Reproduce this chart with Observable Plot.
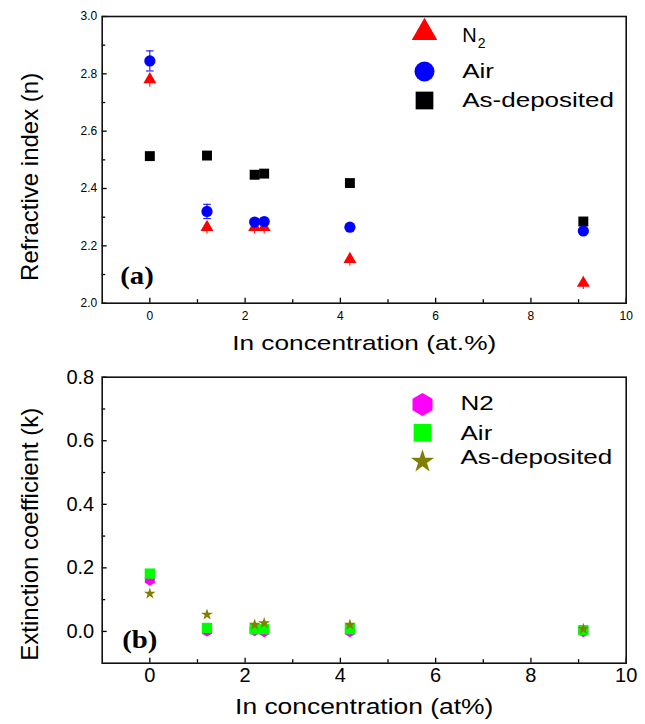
<!DOCTYPE html>
<html><head><meta charset="utf-8">
<script src="https://cdn.jsdelivr.net/npm/d3@7"></script>
<script src="https://cdn.jsdelivr.net/npm/@observablehq/plot@0.6"></script>
<style>
body{margin:0;background:#fff;}
#chart svg{display:block;}
</style></head><body><div id="chart"></div>
<script>
// ---------- data ----------
const concentration = [0, 1.2, 2.2, 2.4, 4.2, 9.1];
// (a) refractive index n
const nN2 = [2.78, 2.265, 2.265, 2.265, 2.153, 2.07];
const nN2Err = [0.015, 0.012, 0.012, 0.012, 0.012, 0.01];
const nAir = [2.845, 2.32, 2.283, 2.285, 2.265, 2.252];
const nAirErr = [0.035, 0.025, 0.005, 0.005, 0.005, 0.005];
const nAsDeposited = [2.513, 2.515, 2.448, 2.452, 2.419, 2.285];
// (b) extinction coefficient k
const kN2 = [0.162, 0.002, 0.003, 0.0, 0.0, 0.0];
const kAir = [0.182, 0.011, 0.007, 0.007, 0.007, 0.004];
const kAsDeposited = [0.119, 0.053, 0.021, 0.026, 0.021, 0.008];

// ticks
const xTicks = [0, 2, 4, 6, 8, 10];
const xMinorTicks = [1, 3, 5, 7, 9];
const nTicks = [2.0, 2.2, 2.4, 2.6, 2.8, 3.0];
const nMinorTicks = [2.1, 2.3, 2.5, 2.7, 2.9];
const kTicks = [0.0, 0.2, 0.4, 0.6, 0.8];
const kMinorTicks = [0.1, 0.3, 0.5, 0.7];

// labels
const xTitleA = "In concentration (at.%)";
const xTitleB = "In concentration (at%)";
const yTitleA = "Refractive index (n)";
const yTitleB = "Extinction coefficient (k)";
const panelA = "(a)";
const panelB = "(b)";
const legendA = ["N₂", "Air", "As-deposited"];
const legendB = ["N2", "Air", "As-deposited"];

// ---------- build ----------
const font = "'Liberation Sans', Arial, sans-serif";
const serif = "'Liberation Serif', 'Times New Roman', serif";
const rows = (ys, errs) => concentration.map((x, i) => ({x, y: ys[i], e: errs ? errs[i] : 0}));
const capSymbol = {draw(ctx) { ctx.moveTo(-3.8, 0); ctx.lineTo(3.8, 0); }};

function axisMarks(yTicks, yMinor, fs, padX, padY) {
  return [
    Plot.axisX(xTicks, {anchor: "bottom", tickSize: -5, tickFormat: () => "", label: null, strokeWidth: 1.3}),
    Plot.axisX(xMinorTicks, {anchor: "bottom", tickSize: -3.5, tickFormat: () => "", label: null, strokeWidth: 1.3}),
    Plot.axisX(xTicks, {anchor: "bottom", tickSize: 0, tickPadding: padX, fontSize: fs, label: null}),
    Plot.axisY(yTicks, {anchor: "left", tickSize: -5, tickFormat: () => "", label: null, strokeWidth: 1.3}),
    Plot.axisY(yMinor, {anchor: "left", tickSize: -3.5, tickFormat: () => "", label: null, strokeWidth: 1.3}),
    Plot.axisY(yTicks, {anchor: "left", tickSize: 0, tickPadding: padY, fontSize: fs, tickFormat: d3.format(".1f"), label: null}),
    Plot.frame({stroke: "#111", strokeWidth: 1.6})
  ];
}

function legendMarks(labels, symbols, fills, radii, rowDy, symDx, textDx, textDy) {
  const m = [];
  labels.forEach((lab, i) => {
    m.push(Plot.dot([lab], {frameAnchor: "top-left", dx: symDx, dy: rowDy[i], symbol: symbols[i], r: radii[i], fill: fills[i], stroke: "none"}));
    m.push(Plot.text([lab], {frameAnchor: "top-left", dx: textDx, dy: textDy[i], text: d => d, textAnchor: "start", lineAnchor: "middle", fontSize: 20, fontFamily: font, fill: "#000"}));
  });
  return m;
}

const W = 645, H = 362;

const plotA = Plot.plot({
  width: W, height: H,
  marginTop: 16, marginBottom: 59.3, marginLeft: 101.7, marginRight: 19.3,
  x: {domain: [-1, 10]},
  y: {domain: [2.0, 3.0]},
  style: {fontFamily: font, color: "#000", background: "#fff", overflow: "visible"},
  marks: [
    ...axisMarks(nTicks, nMinorTicks, 12, 8, 5),
    Plot.ruleX(rows(nN2, nN2Err), {x: "x", y1: d => d.y - d.e - 0.012, y2: d => d.y, stroke: "red", strokeWidth: 1}),
    Plot.ruleX(rows(nAir, nAirErr), {x: "x", y1: d => d.y - d.e, y2: d => d.y + d.e, stroke: "blue", strokeWidth: 1}),
    Plot.dot(rows(nAir, nAirErr).filter(d => d.e > 0.01), {x: "x", y: d => d.y + d.e, symbol: capSymbol, stroke: "blue", strokeWidth: 1, fill: "none"}),
    Plot.dot(rows(nAir, nAirErr).filter(d => d.e > 0.01), {x: "x", y: d => d.y - d.e, symbol: capSymbol, stroke: "blue", strokeWidth: 1, fill: "none"}),
    Plot.dot(rows(nAsDeposited), {x: "x", y: "y", symbol: "square", r: 5.6, fill: "#000", stroke: "none"}),
    Plot.dot(rows(nN2), {x: "x", y: "y", symbol: "triangle", r: 4.8, fill: "red", stroke: "none"}),
    Plot.dot(rows(nAir), {x: "x", y: "y", symbol: "circle", r: 5.6, fill: "blue", stroke: "none"}),
    ...legendMarks(legendA, ["triangle", "circle", "square"], ["red", "blue", "#000"], [9.5, 10, 10], [16, 55, 84], 322.3, 360, [19, 55, 84]),
    Plot.text([xTitleA], {frameAnchor: "bottom", dy: 40, text: d => d, textAnchor: "middle", lineAnchor: "middle", fontSize: 21, fontFamily: font, fill: "#000"}),
    Plot.text([yTitleA], {frameAnchor: "left", dx: -72, dy: 17, rotate: -90, text: d => d, textAnchor: "middle", lineAnchor: "middle", fontSize: 24, fontFamily: font, fill: "#000"}),
    Plot.text([panelA], {frameAnchor: "bottom-left", dx: 18, dy: -27.5, text: d => d, textAnchor: "start", lineAnchor: "middle", fontSize: 25, fontWeight: "bold", fontFamily: serif, fill: "#000"})
  ]
});

const plotB = Plot.plot({
  width: W, height: H,
  marginTop: 14.7, marginBottom: 61.3, marginLeft: 101.7, marginRight: 19.3,
  x: {domain: [-1, 10]},
  y: {domain: [-0.1, 0.8]},
  style: {fontFamily: font, color: "#000", background: "#fff", overflow: "visible"},
  marks: [
    ...axisMarks(kTicks, kMinorTicks, 20, 5, 8),
    Plot.dot(rows(kN2), {x: "x", y: "y", symbol: "hexagon", r: 5, fill: "#ff00ff", stroke: "none"}),
    Plot.dot(rows(kAir), {x: "x", y: "y", symbol: "square", r: 5.8, fill: "#00ff00", stroke: "none"}),
    Plot.dot(rows(kAsDeposited), {x: "x", y: "y", symbol: "star", r: 3.7, fill: "#808000", stroke: "none"}),
    ...legendMarks(legendB, ["hexagon", "square", "star"], ["#ff00ff", "#00ff00", "#808000"], [10, 10, 7.3], [27.3, 55.6, 84.3], 320.3, 358.3, [26, 56, 80]),
    Plot.text([xTitleB], {frameAnchor: "bottom", dy: 44, text: d => d, textAnchor: "middle", lineAnchor: "middle", fontSize: 22, fontFamily: font, fill: "#000"}),
    Plot.text([yTitleB], {frameAnchor: "left", dx: -72, dy: 14, rotate: -90, text: d => d, textAnchor: "middle", lineAnchor: "middle", fontSize: 24, fontFamily: font, fill: "#000"}),
    Plot.text([panelB], {frameAnchor: "bottom-left", dx: 20, dy: -23, text: d => d, textAnchor: "start", lineAnchor: "middle", fontSize: 25, fontWeight: "bold", fontFamily: serif, fill: "#000"})
  ]
});

const chart = document.getElementById("chart");
chart.appendChild(plotA);
chart.appendChild(plotB);

// horizontal stretch of the original scan's lettering
const stretch = new Map([[xTitleA, 1.25], [xTitleB, 1.2], [panelA, 1.15], [panelB, 1.15], ["Air", 1.3], ["As-deposited", 1.3], ["N2", 1.3]]);
d3.select(chart).selectAll("text").each(function() {
  const f = stretch.get(this.textContent);
  if (f) {
    const len = this.getComputedTextLength();
    this.setAttribute("textLength", (len * f).toFixed(1));
    this.setAttribute("lengthAdjust", "spacingAndGlyphs");
  }
  if (this.textContent === "N₂") {
    this.textContent = "N";
    d3.select(this).append("tspan").attr("dy", "0.45em").attr("font-size", 14).attr("dx", 1).text("2");
  }
});
</script></body></html>
